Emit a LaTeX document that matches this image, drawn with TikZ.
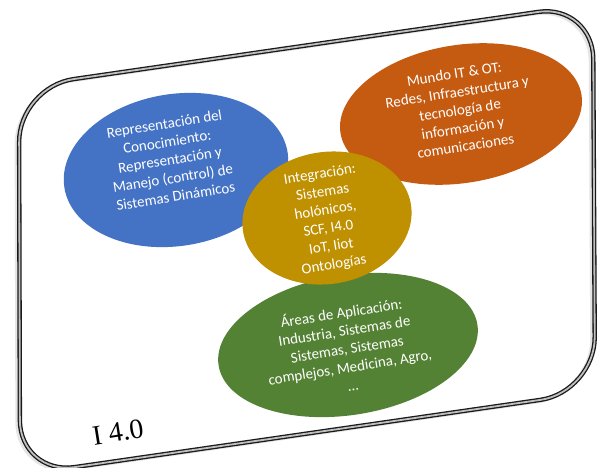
\documentclass[tikz,border=0pt]{standalone}
\usepackage{fontspec}
\setmainfont{Carlito}
\newfontfamily\titlefont{Liberation Serif}
\usetikzlibrary{shapes.geometric}
\definecolor{cblue}{RGB}{68,114,196}
\definecolor{corange}{RGB}{197,90,17}
\definecolor{cgold}{RGB}{191,144,0}
\definecolor{cgreen}{RGB}{84,130,53}
\begin{document}
\begin{tikzpicture}[x=1pt,y=-1pt,
  blob/.style={ellipse, inner sep=0pt, draw=none, rotate=9},
  lbl/.style={text=white, align=center, font=\fontsize{15}{18.3}\selectfont, rotate=9, inner sep=0pt},
  titlestyle/.style={font=\titlefont\fontsize{28}{30}\selectfont, rotate=9, inner sep=0pt},
  framebox/.style={draw=black!90, line width=1.3pt, double=gray!50, double distance=1.8pt, rounded corners=55pt}]
\useasboundingbox (0,0) rectangle (598,468);
\fill[white] (0,0) rectangle (598,468);
% frame shadow and frame
\draw[gray!20, line width=3pt, rounded corners=55pt] (16,89) -- (590,6) -- (592,394) -- (17,477) -- cycle;
\draw[framebox] (19,87) -- (593,4) -- (595,392) -- (20,475) -- cycle;
% ellipses
\node[blob, fill=cblue, minimum width=226pt, minimum height=152pt] (eb) at (176,170) {};
\node[blob, fill=corange, minimum width=244pt, minimum height=138pt] (eo) at (461,114) {};
\node[blob, fill=cgreen, minimum width=262pt, minimum height=140pt] (eg) at (348,345) {};
\node[blob, fill=cgold, minimum width=170pt, minimum height=132pt] (ei) at (327,218) {};
% texts
\node[lbl] (tb) at (170,160) {Representación del\\Conocimiento:\\Representación y\\Manejo (control) de\\Sistemas Dinámicos};
\node[lbl] (to) at (460,110) {Mundo IT \& OT:\\Redes, Infraestructura y\\tecnología de\\información y\\comunicaciones};
\node[lbl] (ti) at (327,220) {Integración:\\Sistemas\\holónicos,\\SCF, I4.0\\IoT, Iiot\\Ontologías};
\node[lbl] (tg) at (347,348) {Áreas de Aplicación:\\Industria, Sistemas de\\Sistemas, Sistemas\\complejos, Medicina, Agro,\\…};
% title
\node[titlestyle] (title) at (118,432) {I 4.0};
\end{tikzpicture}
\end{document}
